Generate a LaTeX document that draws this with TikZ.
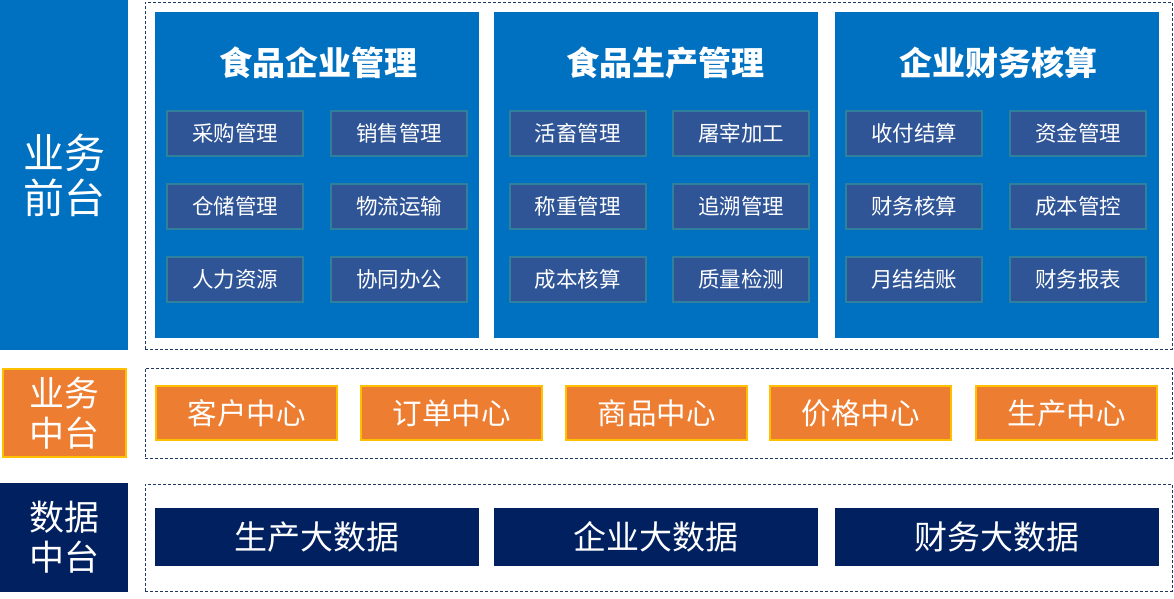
\documentclass[tikz,border=0pt]{standalone}
\usepackage{fontspec}
\setmainfont{Noto Sans CJK SC}
\definecolor{bizblue}{HTML}{0070C0}
\definecolor{cellblue}{HTML}{2F5597}
\definecolor{celledge}{HTML}{2E809C}
\definecolor{midorange}{HTML}{ED7D31}
\definecolor{midedge}{HTML}{FFC000}
\definecolor{datanavy}{HTML}{002060}
\definecolor{framecol}{HTML}{203864}
\begin{document}
\begin{tikzpicture}[x=1pt,y=-1pt,
  side/.style={inner sep=0pt,align=center,text=white,font=\fontsize{41}{45}\selectfont},
  frame/.style={draw=framecol,line width=0.8pt,dash pattern=on 3pt off 2pt,inner sep=0pt,minimum width=1027pt},
  panel/.style={fill=bizblue,inner sep=0pt,minimum width=324pt,minimum height=326pt},
  ptitle/.style={text=white,font=\fontsize{33}{38}\selectfont\bfseries},
  cell/.style={fill=cellblue,draw=celledge,line width=2pt,inner sep=0pt,minimum width=136pt,minimum height=45pt,text=white,font=\fontsize{21.5}{25}\selectfont},
  hub/.style={fill=midorange,draw=midedge,line width=2pt,inner sep=0pt,minimum width=181pt,minimum height=54pt,text=white,font=\fontsize{29.5}{34}\selectfont},
  bigdata/.style={fill=datanavy,inner sep=0pt,minimum width=324pt,minimum height=58pt,text=white,font=\fontsize{33}{38}\selectfont}]
\useasboundingbox[fill=white] (0,0) rectangle (1174,598);
% left labels
\node[side,fill=bizblue,minimum width=128pt,minimum height=350pt] (front) at (64,175) {业务\\前台};
\node[side,fill=midorange,draw=midedge,line width=2pt,minimum width=123pt,minimum height=88pt,font=\fontsize{35}{40}\selectfont] (middle) at (64.5,413) {业务\\中台};
\node[side,fill=datanavy,minimum width=128pt,minimum height=109pt,font=\fontsize{35}{40}\selectfont] (data) at (64,537.5) {数据\\中台};
% dashed frames
\node[frame,minimum height=347pt] (frontframe) at (658.5,175.5) {};
\node[frame,minimum height=90pt] (midframe) at (658.5,413) {};
\node[frame,minimum height=107pt] (dataframe) at (658.5,537.5) {};
% panels
\node[panel] (food) at (317,175) {};
\node[panel] (prod) at (656,175) {};
\node[panel] (fin) at (997,175) {};
\node[ptitle] (foodtitle) at (318,63) {食品企业管理};
\node[ptitle] (prodtitle) at (665,63) {食品生产管理};
\node[ptitle] (fintitle) at (998,63) {企业财务核算};
% panel cells
\node[cell] (buy) at (235,133.5) {采购管理};
\node[cell] (sell) at (399,133.5) {销售管理};
\node[cell] (store) at (235,206.5) {仓储管理};
\node[cell] (ship) at (399,206.5) {物流运输};
\node[cell] (staff) at (235,279.5) {人力资源};
\node[cell] (office) at (399,279.5) {协同办公};
\node[cell] (stock) at (577.5,133.5) {活畜管理};
\node[cell] (slaughter) at (741,133.5) {屠宰加工};
\node[cell] (weigh) at (577.5,206.5) {称重管理};
\node[cell] (trace) at (741,206.5) {追溯管理};
\node[cell] (costcalc) at (577.5,279.5) {成本核算};
\node[cell] (quality) at (741,279.5) {质量检测};
\node[cell] (settle) at (914,133.5) {收付结算};
\node[cell] (fund) at (1078,133.5) {资金管理};
\node[cell] (account) at (914,206.5) {财务核算};
\node[cell] (costctl) at (1078,206.5) {成本管控};
\node[cell] (close) at (914,279.5) {月结结账};
\node[cell] (report) at (1078,279.5) {财务报表};
% middle hubs
\node[hub] (customer) at (246.5,413) {客户中心};
\node[hub] (order) at (451.5,413) {订单中心};
\node[hub] (goods) at (656.5,413) {商品中心};
\node[hub] (price) at (860.5,413) {价格中心};
\node[hub] (produce) at (1066.5,413) {生产中心};
% big data
\node[bigdata] (prodbd) at (317,537) {生产大数据};
\node[bigdata] (entbd) at (656,537) {企业大数据};
\node[bigdata] (finbd) at (997,537) {财务大数据};
\end{tikzpicture}
\end{document}
